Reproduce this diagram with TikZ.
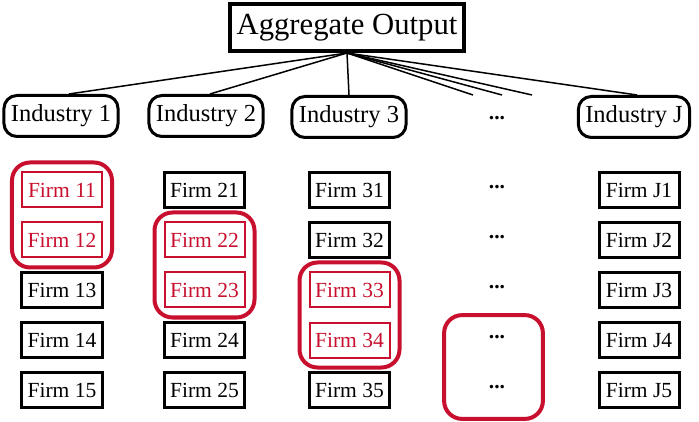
\documentclass[tikz,border=0pt]{standalone}
\usepackage{fontspec}
\setmainfont{Liberation Serif}
\usepackage{tikz}
\usetikzlibrary{positioning, fit, shapes.misc}
\definecolor{crimson}{RGB}{200,16,46}

\begin{document}
\begin{tikzpicture}[x=0.5bp,y=-0.5bp,node distance=25bp,
        every node/.style={font=\fontsize{10.8}{12}\selectfont}]
        \tikzstyle{firm}=[draw=black,line width=1.5bp,minimum width=40bp,minimum height=17.5bp,inner sep=0pt]
        \tikzstyle{hot}=[firm,draw=crimson,text=crimson,line width=1bp]
        \tikzstyle{gap}=[minimum width=40bp,minimum height=17.5bp,inner sep=0pt,font=\fontsize{10.8}{12}\selectfont\bfseries]
        \tikzstyle{industry}=[draw=black,line width=1.5bp,rounded corners=6.5bp,minimum height=20.5bp,inner xsep=3.5bp,font=\fontsize{12.3}{14}\selectfont]
        \tikzstyle{group}=[draw=crimson,line width=2bp,rounded corners=9bp,inner sep=4.5bp]
        \tikzstyle{link}=[line width=0.75bp]
        \useasboundingbox (0,0) rectangle (699,422);

        \node[draw,line width=2.2bp,minimum width=116.8bp,minimum height=23.3bp,inner sep=0pt,font=\fontsize{15.4}{17}\selectfont](agg) at (347,27.5){Aggregate Output};

        \node[industry](ind1) at (61,116){Industry 1};
        \node[industry](ind2) at (206,116){Industry 2};
        \node[industry](ind3) at (349,117){Industry 3};
        \node[gap](indd) at (497,118){...};
        \node[industry](indJ) at (634,117){Industry J};

        \coordinate (more1) at (473,95);
        \coordinate (more2) at (502,95);
        \coordinate (more3) at (532,95);

        \draw[link] (agg.south) -- ([xshift=4bp]ind1.north);
        \draw[link] (agg.south) -- ([xshift=2bp]ind2.north);
        \draw[link] (agg.south) -- (ind3.north);
        \draw[link] (agg.south) -- (more1);
        \draw[link] (agg.south) -- (more2);
        \draw[link] (agg.south) -- (more3);
        \draw[link] (agg.south) -- ([xshift=1.5bp]indJ.north);

        % industry 1
        \node[hot](f11) at (62,190){Firm 11};
        \node[hot](f12)[below of=f11]{Firm 12};
        \node[firm](f13)[below of=f12]{Firm 13};
        \node[firm](f14)[below of=f13]{Firm 14};
        \node[firm](f15)[below of=f14]{Firm 15};
        % industry 2
        \node[firm](f21) at (204.5,190){Firm 21};
        \node[hot](f22)[below of=f21]{Firm 22};
        \node[hot](f23)[below of=f22]{Firm 23};
        \node[firm](f24)[below of=f23]{Firm 24};
        \node[firm](f25)[below of=f24]{Firm 25};
        % industry 3
        \node[firm](f31) at (349.5,190){Firm 31};
        \node[firm](f32)[below of=f31]{Firm 32};
        \node[hot](f33)[below of=f32]{Firm 33};
        \node[hot](f34)[below of=f33]{Firm 34};
        \node[firm](f35)[below of=f34]{Firm 35};
        % the rest
        \node[gap](d1) at (497,187){...};
        \node[gap](d2)[below of=d1]{...};
        \node[gap](d3)[below of=d2]{...};
        \node[gap](d4)[below of=d3]{...};
        \node[gap](d5)[below of=d4]{...};
        % industry J
        \node[firm](fJ1) at (639,190){Firm J1};
        \node[firm](fJ2)[below of=fJ1]{Firm J2};
        \node[firm](fJ3)[below of=fJ2]{Firm J3};
        \node[firm](fJ4)[below of=fJ3]{Firm J4};
        \node[firm](fJ5)[below of=fJ4]{Firm J5};

        \node[group,fit=(f11)(f12)](g1){};
        \node[group,fit=(f22)(f23)](g2){};
        \node[group,fit=(f33)(f34)](g3){};
        \node[group,fit=(d4)(d5),xshift=-1.75bp,yshift=-2.5bp](g4){};
      \end{tikzpicture}
\end{document}
